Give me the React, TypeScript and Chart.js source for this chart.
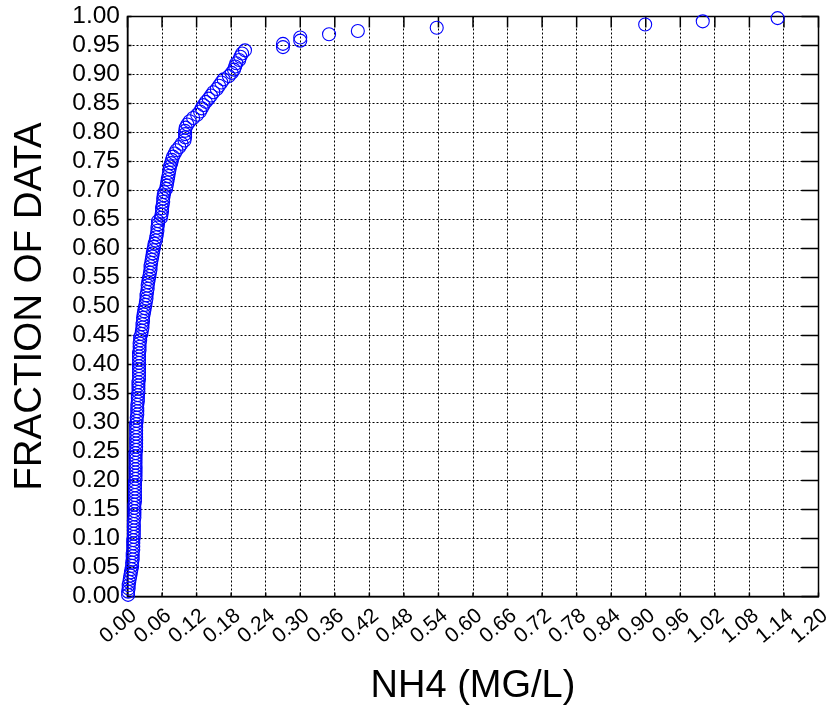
import React, { useEffect, useRef } from "react";
import { Chart, registerables } from "chart.js";

Chart.register(...registerables);

// NH4 concentrations (mg/L), sorted ascending
const nh4Values: number[] = [
  0.001, 0.001, 0.002, 0.002, 0.003, 0.004, 0.005, 0.006, 0.007,
  0.008, 0.008, 0.009, 0.009, 0.009, 0.010, 0.010, 0.010, 0.010,
  0.011, 0.011, 0.011, 0.011, 0.011, 0.011, 0.012, 0.012, 0.012,
  0.012, 0.012, 0.013, 0.013, 0.013, 0.013, 0.013, 0.013, 0.013,
  0.014, 0.014, 0.014, 0.014, 0.014, 0.014, 0.014, 0.014, 0.014,
  0.015, 0.015, 0.015, 0.015, 0.015, 0.015, 0.015, 0.015, 0.015,
  0.016, 0.016, 0.017, 0.017, 0.017, 0.017, 0.018, 0.018, 0.018,
  0.019, 0.019, 0.019, 0.019, 0.020, 0.020, 0.020, 0.020, 0.020,
  0.020, 0.020, 0.020, 0.020, 0.021, 0.021, 0.021, 0.022, 0.022,
  0.024, 0.025, 0.026, 0.026, 0.027, 0.027, 0.028, 0.029, 0.030,
  0.031, 0.032, 0.033, 0.033, 0.034, 0.035, 0.035, 0.036, 0.037,
  0.038, 0.039, 0.040, 0.040, 0.041, 0.042, 0.043, 0.044, 0.045,
  0.046, 0.047, 0.049, 0.050, 0.051, 0.052, 0.052, 0.053, 0.053,
  0.058, 0.059, 0.060, 0.060, 0.061, 0.062, 0.062, 0.063, 0.064,
  0.067, 0.068, 0.069, 0.070, 0.071, 0.072, 0.073, 0.074, 0.076,
  0.077, 0.079, 0.082, 0.085, 0.090, 0.094, 0.099, 0.100, 0.100,
  0.100, 0.101, 0.104, 0.108, 0.114, 0.121, 0.126, 0.129, 0.132,
  0.136, 0.141, 0.145, 0.149, 0.155, 0.159, 0.163, 0.167, 0.176,
  0.181, 0.185, 0.187, 0.189, 0.194, 0.196, 0.199, 0.204, 0.270,
  0.270, 0.300, 0.300, 0.350, 0.400, 0.537, 0.899, 0.999, 1.129,
];

// Empirical cumulative fraction of each sorted sample (Hazen plotting position)
const fractionOfData: number[] = nh4Values.map((_, i) => (i + 0.5) / nh4Values.length);

const xTickValues: number[] = [
  0.0, 0.06, 0.12, 0.18, 0.24, 0.3, 0.36, 0.42, 0.48, 0.54, 0.6,
  0.66, 0.72, 0.78, 0.84, 0.9, 0.96, 1.02, 1.08, 1.14, 1.2,
];
const yTickValues: number[] = [
  0.0, 0.05, 0.1, 0.15, 0.2, 0.25, 0.3, 0.35, 0.4, 0.45, 0.5,
  0.55, 0.6, 0.65, 0.7, 0.75, 0.8, 0.85, 0.9, 0.95, 1.0,
];

const xTitle = "NH4 (MG/L)";
const yTitle = "FRACTION OF DATA";

const FONT = "'Liberation Sans', Arial, Helvetica, sans-serif";

// Solid frame around the plot area with short inward tick marks
const framePlugin = {
  id: "plotFrame",
  beforeDatasetsDraw(chart: any) {
    const { ctx, chartArea: a, scales } = chart;
    ctx.save();
    ctx.strokeStyle = "#000";
    ctx.lineWidth = 1.5;
    ctx.strokeRect(a.left, a.top, a.right - a.left, a.bottom - a.top);
    ctx.beginPath();
    for (const v of xTickValues) {
      const px = scales.x.getPixelForValue(v);
      ctx.moveTo(px, a.top);
      ctx.lineTo(px, a.top + 11);
      ctx.moveTo(px, a.bottom);
      ctx.lineTo(px, a.bottom - 4);
    }
    for (const v of yTickValues) {
      const py = scales.y.getPixelForValue(v);
      ctx.moveTo(a.right, py);
      ctx.lineTo(a.right - 17, py);
      ctx.moveTo(a.left, py);
      ctx.lineTo(a.left + 4, py);
    }
    ctx.stroke();
    ctx.restore();
  },
};

export default function App() {
  const canvasRef = useRef<HTMLCanvasElement | null>(null);

  useEffect(() => {
    if (!canvasRef.current) return;
    const points = nh4Values.map((x, i) => ({ x, y: fractionOfData[i] }));

    const chart = new Chart(canvasRef.current, {
      type: "scatter",
      data: {
        datasets: [
          {
            data: points,
            pointStyle: "circle",
            pointRadius: 6.5,
            pointHoverRadius: 6.5,
            borderWidth: 1.1,
            borderColor: "rgb(0,0,255)",
            backgroundColor: "rgba(0,0,0,0)",
            clip: false as any,
          },
        ],
      },
      options: {
        animation: false,
        responsive: true,
        maintainAspectRatio: false,
        events: [],
        layout: { padding: { left: 0, top: 16.5, right: 13.5, bottom: 0 } },
        plugins: {
          legend: { display: false },
          tooltip: { enabled: false },
        },
        scales: {
          x: {
            type: "linear",
            min: 0,
            max: 1.2,
            afterBuildTicks: (scale: any) => {
              scale.ticks = xTickValues.map((value) => ({ value }));
            },
            afterFit: (scale: any) => {
              scale.height = 114.5;
              scale.paddingLeft = 0;
              scale.paddingRight = 0;
            },
            ticks: {
              autoSkip: false,
              minRotation: 40,
              maxRotation: 40,
              padding: 7,
              labelOffset: 6.5,
              color: "#000",
              font: { family: FONT, size: 21 },
              callback: (v: any) => Number(v).toFixed(2),
            },
            grid: { color: "#000", lineWidth: 1, drawTicks: false },
            border: { display: true, color: "#000", width: 1.5, dash: [2, 2] },
            title: {
              display: true,
              text: xTitle,
              color: "#000",
              font: { family: FONT, size: 38 },
              padding: { top: 0, bottom: 2 },
            },
          },
          y: {
            type: "linear",
            min: 0,
            max: 1,
            afterBuildTicks: (scale: any) => {
              scale.ticks = yTickValues.map((value) => ({ value }));
            },
            afterFit: (scale: any) => {
              scale.width = 127.5;
              scale.paddingTop = 0;
              scale.paddingBottom = 0;
            },
            ticks: {
              autoSkip: false,
              padding: 7.5,
              color: "#000",
              font: { family: FONT, size: 24.5 },
              callback: (v: any) => Number(v).toFixed(2),
            },
            grid: { color: "#000", lineWidth: 1, drawTicks: false },
            border: { display: true, color: "#000", width: 1.5, dash: [2, 2] },
            title: {
              display: true,
              text: yTitle,
              color: "#000",
              font: { family: FONT, size: 38.5 },
              padding: { top: 7.5, bottom: 0 },
            },
          },
        },
      },
      plugins: [framePlugin],
    });

    return () => chart.destroy();
  }, []);

  return (
    <div
      style={{
        position: "absolute",
        left: 0,
        top: 0,
        width: 832,
        height: 711,
        background: "#fff",
      }}
    >
      <canvas ref={canvasRef} />
    </div>
  );
}
